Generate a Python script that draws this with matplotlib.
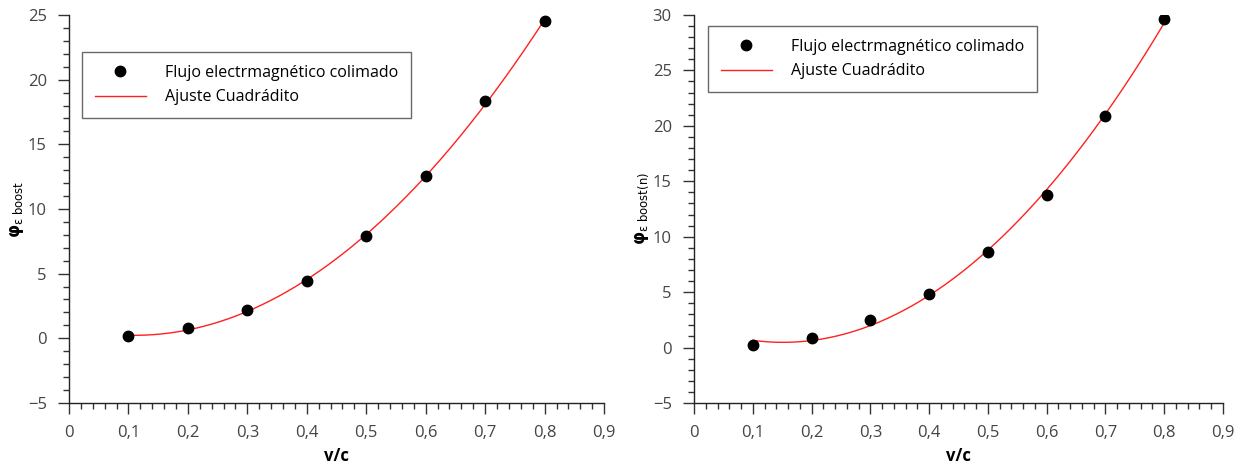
import numpy as np
import matplotlib.pyplot as plt
from matplotlib.ticker import MultipleLocator, FuncFormatter

plt.rcParams['font.family'] = ['Open Sans', 'DejaVu Sans']
plt.rcParams['mathtext.fontset'] = 'dejavusans'

# Measured flux vs v/c, two datasets
vc = [0.1, 0.2, 0.3, 0.4, 0.5, 0.6, 0.7, 0.8]
phi_boost = [0.15, 0.8, 2.15, 4.4, 7.9, 12.55, 18.35, 24.5]
phi_boost_n = [0.25, 0.85, 2.5, 4.85, 8.6, 13.75, 20.85, 29.65]

ylabels = [r'$\mathbf{\varphi}_{\mathrm{\varepsilon\ boost}}$',
           r'$\mathbf{\varphi}_{\mathrm{\varepsilon\ boost(n)}}$']
ylims = [(-5, 25), (-5, 30)]
legend_pos = [(0.024, 0.905), (0.026, 0.972)]

fig = plt.figure(figsize=(12.59, 4.68), dpi=100)
ax1 = fig.add_axes([0.0548, 0.139, 0.425, 0.829])
ax2 = fig.add_axes([0.5513, 0.139, 0.420, 0.829])

comma = FuncFormatter(lambda v, p: ('%g' % round(v, 3)).replace('.', ',').replace('-', '\u2212'))

for ax, y, lab, lim, lpos in zip([ax1, ax2], [phi_boost, phi_boost_n], ylabels, ylims, legend_pos):
    coef = np.polyfit(vc, y, 2)
    xs = np.linspace(min(vc), max(vc), 200)
    ax.plot(vc, y, 'o', color='black', markersize=7.5, label='Flujo electrmagnético colimado', zorder=3)
    ax.plot(xs, np.polyval(coef, xs), '-', color='#ff2020', lw=1.0, label='Ajuste Cuadrádito', zorder=2)

    ax.set_xlim(0, 0.9)
    ax.set_ylim(*lim)
    ax.xaxis.set_major_locator(MultipleLocator(0.1))
    ax.xaxis.set_minor_locator(MultipleLocator(0.02))
    ax.yaxis.set_major_locator(MultipleLocator(5))
    ax.yaxis.set_minor_locator(MultipleLocator(1))
    ax.xaxis.set_major_formatter(comma)
    ax.yaxis.set_major_formatter(comma)

    for side in ['top', 'right']:
        ax.spines[side].set_visible(False)
    for side in ['left', 'bottom']:
        ax.spines[side].set_color('#222222')
        ax.spines[side].set_linewidth(1.0)
    ax.tick_params(which='major', direction='out', length=8, width=1, color='#333333',
                   labelsize=12, labelcolor='#444444', pad=8)
    ax.tick_params(which='minor', direction='out', length=4, width=1, color='#333333')

    ax.set_xlabel('v/c', fontsize=12, fontweight='bold', labelpad=4)
    ax.set_ylabel(lab, fontsize=12, labelpad=1)

    leg = ax.legend(loc='upper left', bbox_to_anchor=lpos, fontsize=11.5, frameon=True,
                    fancybox=False, edgecolor='#444444', borderpad=0.8,
                    handlelength=3.2, handletextpad=1.2, labelspacing=0.55, borderaxespad=0)
    leg.get_frame().set_linewidth(1.0)

fig.savefig('out.png', dpi=100)
